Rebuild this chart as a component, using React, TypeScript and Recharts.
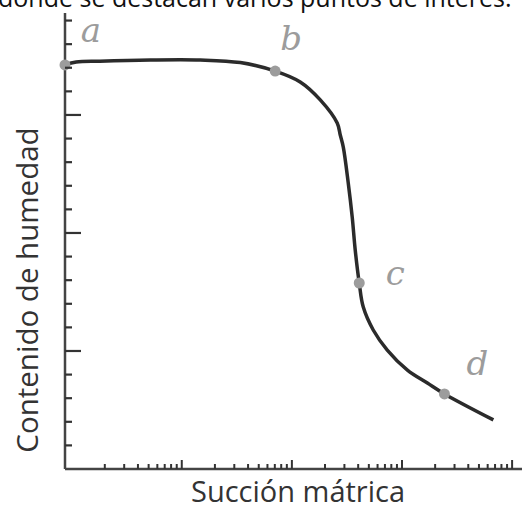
import { ComposedChart, Line, XAxis, YAxis, LabelList, Label } from "recharts";

// Curva de retención: succión mátrica (escala log) frente a contenido de humedad
const succion = [
  0.087, 0.11, 0.18, 0.52, 1.47, 3.4, 7.05, 11.9, 18.1, 25.8, 27.5, 29.3,
  32.5, 35.3, 37.6, 40.9, 44.5, 54.8, 73.5, 112, 170, 243, 676,
];
const humedad = [
  17.12, 17.24, 17.28, 17.33, 17.33, 17.22, 16.86, 16.4, 15.64, 14.66, 14.15,
  13.64, 12.12, 10.68, 9.28, 7.88, 6.86, 5.89, 5.04, 4.19, 3.64, 3.18, 2.08,
];

// puntos de interés sobre la curva
const puntoNombres = ["a", "b", "c", "d"];
const puntoIndices = [0, 6, 15, 21];

// marcas del eje x (log) y del eje y
const xMenores = [
  0.2, 0.3, 0.4, 0.5, 0.6, 0.7, 0.8, 0.9, 2, 3, 4, 5, 6, 7, 8, 9, 20, 30, 40,
  50, 60, 70, 80, 90, 200, 300, 400, 500, 600, 700, 800, 900,
];
const xMayores = [1, 10, 100, 1000];
const yMarcas = [1, 2, 3, 4, 5, 6, 7, 8, 9, 10, 11, 12, 13, 14, 15, 16, 17, 18, 19];
const yLargas = [5, 10, 15];

const titulo = "donde se destacan varios puntos de interés.";

const datos = succion.map((s, i) => {
  const k = puntoIndices.indexOf(i);
  return { succion: s, humedad: humedad[i], punto: k >= 0 ? puntoNombres[k] : "" };
});

// desplazamiento de cada letra respecto a su punto
const letraOffset: Record<string, [number, number]> = {
  a: [26, -23],
  b: [16, -21],
  c: [36, 2],
  d: [33, -19],
};

const INK = "#333";
const GRIS = "#9c9c9c";

// Catmull-Rom centrípeta: curva suave que pasa por todos los puntos
const catmullRom = (context: any) => {
  let pts: [number, number][] = [];
  const dist = (a: number[], b: number[]) => Math.hypot(b[0] - a[0], b[1] - a[1]);
  const ctrl = (p0: number[], p1: number[], p2: number[], p3: number[]) => {
    const l01 = Math.sqrt(dist(p0, p1));
    const l12 = Math.sqrt(dist(p1, p2));
    const l23 = Math.sqrt(dist(p2, p3));
    const c1 = [p1[0], p1[1]];
    const c2 = [p2[0], p2[1]];
    for (let k = 0; k < 2; k++) {
      if (l01 > 1e-6) {
        c1[k] =
          (p1[k] * (2 * l01 * l01 + 3 * l01 * l12 + l12 * l12) -
            p0[k] * l12 * l12 +
            p2[k] * l01 * l01) /
          (3 * l01 * (l01 + l12));
      }
      if (l23 > 1e-6) {
        c2[k] =
          (p2[k] * (2 * l23 * l23 + 3 * l23 * l12 + l12 * l12) +
            p1[k] * l23 * l23 -
            p3[k] * l12 * l12) /
          (3 * l23 * (l23 + l12));
      }
    }
    return [c1, c2];
  };
  return {
    areaStart() {},
    areaEnd() {},
    lineStart() {
      pts = [];
    },
    point(x: number, y: number) {
      pts.push([+x, +y]);
    },
    lineEnd() {
      if (!pts.length) return;
      context.moveTo(pts[0][0], pts[0][1]);
      for (let i = 0; i < pts.length - 1; i++) {
        const p0 = pts[i - 1] || pts[i];
        const p1 = pts[i];
        const p2 = pts[i + 1];
        const p3 = pts[i + 2] || p2;
        const [c1, c2] = ctrl(p0, p1, p2, p3);
        context.bezierCurveTo(c1[0], c1[1], c2[0], c2[1], p2[0], p2[1]);
      }
    },
  };
};

const XTick = (props: any) => {
  const { x, y, payload } = props;
  const mayor = xMayores.includes(payload.value);
  return (
    <line x1={x} x2={x} y1={y} y2={y - (mayor ? 9 : 5)} stroke={INK} strokeWidth={2} />
  );
};

const YTick = (props: any) => {
  const { x, y, payload } = props;
  const larga = yLargas.includes(payload.value);
  return (
    <line x1={x} x2={x + (larga ? 16 : 7)} y1={y} y2={y} stroke={INK} strokeWidth={2.2} />
  );
};

const renderDot = (p: any) => {
  if (!p.payload.punto) return <g key={`d-${p.index}`} />;
  return <circle key={`d-${p.index}`} cx={p.cx} cy={p.cy} r={5.5} fill={GRIS} />;
};

const renderLetra = (p: any) => {
  const v = p.value;
  if (!v) return null;
  const [dx, dy] = letraOffset[v];
  return (
    <text
      x={p.x + dx}
      y={p.y + dy}
      textAnchor="middle"
      fill={GRIS}
      fontFamily="DejaVu Serif"
      fontStyle="italic"
      fontSize={34}
    >
      {v}
    </text>
  );
};

export default function App() {
  return (
    <div style={{ position: "absolute", left: 0, top: 0, width: 526, height: 506, background: "#fff" }}>
      <ComposedChart
        width={526}
        height={506}
        data={datos}
        margin={{ top: 13, right: 4, bottom: 0, left: 0 }}
      >
        <XAxis
          dataKey="succion"
          type="number"
          scale="log"
          domain={[0.087, 1230]}
          ticks={[...xMenores, ...xMayores]}
          interval={0}
          height={37}
          tickSize={0}
          tickMargin={0}
          tickLine={false}
          tick={<XTick />}
          axisLine={{ stroke: "#444", strokeWidth: 2.5 }}
        >
          <Label
            content={() => (
              <text
                x={298}
                y={502}
                textAnchor="middle"
                fill={INK}
                fontFamily="Open Sans"
                fontSize={29}
              >
                Succión mátrica
              </text>
            )}
          />
        </XAxis>
        <YAxis
          type="number"
          domain={[0, 19.32]}
          ticks={yMarcas}
          interval={0}
          width={65}
          tickSize={0}
          tickMargin={0}
          tickLine={false}
          tick={<YTick />}
          axisLine={{ stroke: "#444", strokeWidth: 2.5 }}
        >
          <Label
            content={() => (
              <text
                transform="translate(38 290) rotate(-90)"
                textAnchor="middle"
                fill={INK}
                fontFamily="Open Sans"
                fontSize={29.5}
              >
                Contenido de humedad
              </text>
            )}
          />
        </YAxis>
        <Line
          dataKey="humedad"
          type={catmullRom as any}
          stroke="#2b2b2b"
          strokeWidth={3.5}
          dot={renderDot}
          activeDot={false}
          isAnimationActive={false}
        >
          <LabelList dataKey="punto" content={renderLetra} />
        </Line>
      </ComposedChart>
      <svg
        width={526}
        height={20}
        style={{ position: "absolute", left: 0, top: 0, overflow: "visible" }}
      >
        <text x={-2} y={7} fill="#111" fontFamily="Open Sans" fontSize={25}>
          {titulo}
        </text>
      </svg>
    </div>
  );
}
